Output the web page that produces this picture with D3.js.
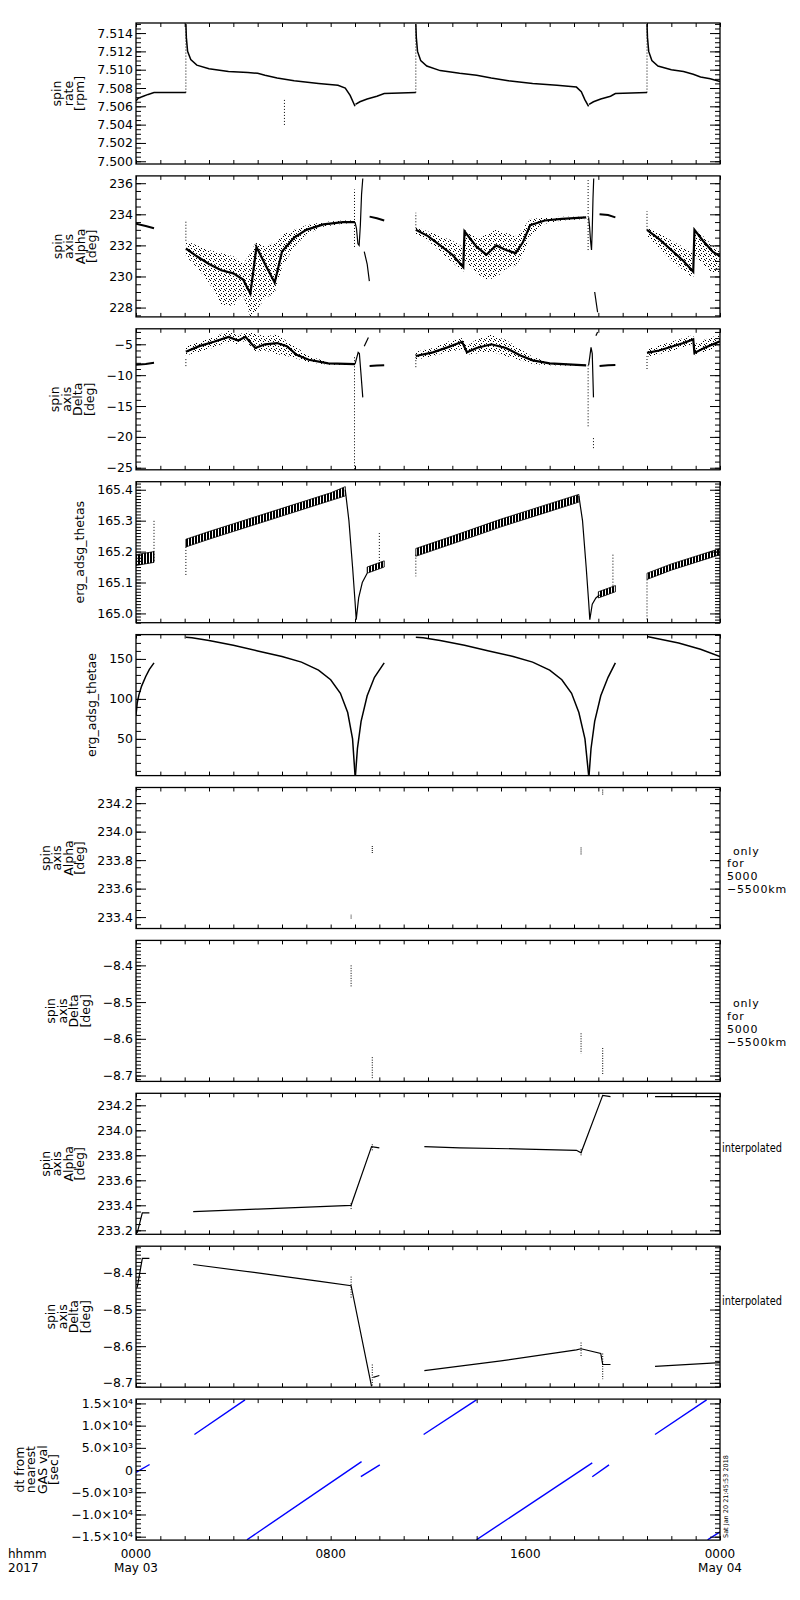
<!DOCTYPE html>
<meta charset="utf-8">
<style>
body { margin: 0; background: #fff; }
svg { display: block; background: #fff; }
text { font-family: "DejaVu Sans", sans-serif; font-size: 12.5px; fill: #000; }
.axis text { font-family: "DejaVu Sans", sans-serif; font-size: 12.5px; }
.axis line { stroke: #000; stroke-width: 1; }
</style>
<svg width="800" height="1600"></svg>
<script src="https://d3js.org/d3.v7.min.js"></script>
<script>

// ---- time axis (hours from 2017 May 03 00:00) ----
var xMajor = [0, 8, 16, 24];
var xMajorLabels = ["0000", "0800", "1600", "0000"];
var xDateLabels = ["May 03", "", "", "May 04"];

// ---- panel 1: spin rate [rpm] ----
var rateTicks = [7.500, 7.502, 7.504, 7.506, 7.508, 7.510, 7.512, 7.514];
var rateSeg0 = [[0,7.5066],[0.1,7.5069],[0.3,7.5071],[0.5,7.5073],[0.74,7.5075],[2.05,7.5075]];
var rateSeg1 = [[2.05,7.5150],[2.07,7.5135],[2.12,7.5120],[2.25,7.5111],[2.5,7.5105],[3.0,7.5101],[3.8,7.5098],[4.6,7.5097],[5.0,7.5096],[5.3,7.5094],[5.8,7.5091],[6.5,7.5088],[7.5,7.5085],[8.3,7.5083],[8.6,7.5080],[8.8,7.5072],[8.95,7.5063],[9.0,7.5060]];
var rateSeg1b = [[9.02,7.5062],[9.2,7.5065],[9.5,7.5068],[9.9,7.5071],[10.2,7.5074],[11.5,7.5075]];
var rateSeg2 = [[11.5,7.5150],[11.52,7.5135],[11.57,7.5120],[11.7,7.5110],[11.95,7.5104],[12.5,7.5099],[13.3,7.5096],[14.0,7.5094],[14.6,7.5091],[15.3,7.5088],[16.3,7.5085],[17.3,7.5083],[18.1,7.5081],[18.3,7.5076],[18.45,7.5067],[18.6,7.5060]];
var rateSeg2b = [[18.62,7.5062],[18.8,7.5065],[19.1,7.5068],[19.5,7.5071],[19.7,7.5074],[21.0,7.5075]];
var rateSeg3 = [[21.0,7.5150],[21.02,7.5135],[21.07,7.5120],[21.2,7.5110],[21.45,7.5104],[22.0,7.5100],[22.5,7.5098],[22.9,7.5095],[23.2,7.5092],[23.6,7.5090],[24,7.5087]];
var rateDots = [[2.05,7.5075,7.5150],[11.5,7.5075,7.5150],[21.0,7.5075,7.5150],[6.1,7.5067,7.5038]];

// ---- panel 2: spin axis alpha [deg]  (cloud rows: hour, low, core, high) ----
var alphaTicks = [228, 230, 232, 234, 236];
var alphaSeg0 = [[0,233.4],[0.4,233.25],[0.74,233.1]];
var alphaCloud1 = [[2.05,231.3,231.8,232.3],[2.5,230.6,231.3,232.0],[3.0,229.6,230.8,231.7],[3.5,228.2,230.4,231.5],[4.0,228.1,230.2,231.3],[4.4,228.8,229.8,230.8],[4.7,227.4,228.9,231.5],[4.95,227.8,231.9,232.3],[5.3,228.6,230.8,231.9],[5.7,228.9,229.6,232.2],[6.0,230.6,231.6,232.7],[6.5,231.9,232.5,233.0],[7.0,232.7,233.0,233.3],[7.7,233.2,233.35,233.5],[8.5,233.4,233.5,233.6],[9.0,233.45,233.5,233.6]];
var alphaCloud2 = [[11.5,232.7,233.0,233.2],[12.0,232.3,232.6,232.9],[12.5,231.6,232.0,232.6],[13.0,230.9,231.4,232.3],[13.45,230.3,230.6,231.9],[13.5,231.0,232.9,233.0],[14.0,230.2,231.9,232.5],[14.4,229.8,231.4,232.7],[14.8,229.9,232.0,233.0],[15.2,230.5,231.7,232.8],[15.6,230.7,231.5,232.6],[15.9,231.3,232.2,233.1],[16.2,232.6,233.3,233.7],[16.8,233.4,233.6,233.8],[17.5,233.6,233.7,233.85],[18.5,233.7,233.8,233.85]];
var alphaCloud3 = [[21.0,232.6,233.0,233.2],[21.5,231.8,232.4,232.8],[22.0,231.0,231.7,232.3],[22.5,230.4,231.0,231.9],[22.9,229.9,230.3,231.5],[22.95,231.3,233.0,233.1],[23.3,230.8,232.3,232.6],[23.7,230.2,231.6,232.0],[24.0,230.3,231.3,231.6]];
var alphaSpike1 = [[9.0,233.5],[9.06,233.1],[9.12,232.1],[9.17,232.0],[9.22,233.3],[9.27,235.3],[9.32,236.3]];
var alphaDrop1 = [[9.38,231.6],[9.5,230.8],[9.59,229.7]];
var alphaTail1 = [[9.6,233.85],[9.9,233.75],[10.2,233.6]];
var alphaSpike2 = [[18.6,233.8],[18.64,233.2],[18.68,232.3],[18.72,231.7],[18.75,233.0],[18.78,235.0],[18.81,236.3]];
var alphaDrop2 = [[18.85,229.0],[18.97,227.7]];
var alphaTail2 = [[19.05,234.0],[19.4,233.95],[19.7,233.8]];
var alphaDots = [[2.05,232.3,233.6],[8.98,231.9,235.6],[11.5,233.1,234.1],[18.58,231.7,236.2],[21.0,233.0,234.2]];

// ---- panel 3: spin axis delta [deg] ----
var deltaTicks = [-25, -20, -15, -10, -5];
var deltaSeg0 = [[0,-8.3],[0.4,-8.2],[0.74,-8.0]];
var deltaCloud1 = [[2.05,-6.8,-6.2,-5.3],[2.6,-6.2,-5.3,-4.6],[3.2,-5.5,-4.6,-3.8],[3.8,-4.7,-3.8,-2.8],[4.2,-5.0,-4.4,-3.6],[4.5,-4.4,-3.8,-2.8],[4.9,-6.2,-5.6,-3.3],[5.3,-6.0,-5.0,-3.7],[5.8,-6.6,-4.8,-3.4],[6.2,-6.9,-5.3,-4.5],[6.6,-7.3,-6.7,-5.5],[7.1,-7.9,-7.5,-6.9],[7.9,-8.3,-8.1,-7.9],[9.0,-8.35,-8.2,-8.1]];
var deltaCloud2 = [[11.5,-7.5,-6.9,-6.2],[12.2,-6.9,-6.3,-5.6],[12.8,-6.3,-5.5,-4.6],[13.4,-5.8,-4.6,-4.0],[13.6,-6.7,-6.3,-5.3],[14.0,-6.5,-5.6,-4.2],[14.6,-6.2,-5.0,-3.4],[15.2,-6.9,-5.6,-4.3],[15.8,-7.6,-6.8,-5.8],[16.3,-8.2,-7.6,-7.0],[17.0,-8.4,-8.1,-8.0],[18.5,-8.5,-8.4,-8.3]];
var deltaCloud3 = [[21.0,-7.0,-6.4,-5.8],[21.5,-6.6,-6.0,-5.2],[22.0,-6.1,-5.4,-4.6],[22.5,-5.5,-4.8,-4.0],[22.9,-5.0,-4.2,-3.5],[22.95,-6.8,-6.4,-5.0],[23.4,-6.2,-5.5,-4.2],[24.0,-5.2,-4.5,-3.4]];
var deltaSpike1 = [[9.0,-8.2],[9.07,-7.2],[9.13,-6.3],[9.18,-6.5],[9.24,-9.5],[9.32,-13.6]];
var deltaRise1 = [[9.38,-5.3],[9.55,-3.9]];
var deltaTail1 = [[9.6,-8.5],[9.9,-8.45],[10.2,-8.4]];
var deltaSpike2 = [[18.6,-8.4],[18.65,-7.0],[18.7,-5.5],[18.75,-6.5],[18.8,-13.6]];
var deltaRise2 = [[18.9,-3.6],[18.97,-3.0]];
var deltaTail2 = [[19.05,-8.5],[19.4,-8.4],[19.7,-8.35]];
var deltaDots = [[2.05,-7.4,-8.6],[8.98,-7.1,-25.3],[11.5,-6.6,-8.9],[18.58,-8.4,-18.5],[18.8,-20.2,-22.1],[21.0,-6.9,-9.1]];

// ---- panel 4: erg_adsg_thetas  (band rows: hour, low, high) ----
var thetasTicks = [165.0, 165.1, 165.2, 165.3, 165.4];
var thetasBand0 = [[0,165.155,165.19],[0.74,165.165,165.2]];
var thetasBand1 = [[2.05,165.215,165.24],[3,165.24,165.265],[4,165.265,165.29],[5,165.29,165.315],[6,165.315,165.34],[7,165.34,165.365],[8,165.365,165.39],[8.6,165.38,165.41]];
var thetasFall1 = [[8.6,165.40],[8.75,165.3],[8.9,165.15],[9.0,165.04],[9.05,164.98],[9.15,165.05],[9.3,165.1],[9.5,165.13]];
var thetasBand1b = [[9.5,165.13,165.15],[10.2,165.15,165.17]];
var thetasBand2 = [[11.5,165.185,165.21],[13,165.225,165.25],[15,165.28,165.305],[17,165.33,165.355],[18.2,165.36,165.385]];
var thetasFall2 = [[18.2,165.38],[18.35,165.3],[18.5,165.15],[18.6,165.04],[18.65,164.98],[18.75,165.03],[18.9,165.05],[19.05,165.06]];
var thetasBand2b = [[19.0,165.05,165.07],[19.7,165.07,165.09]];
var thetasBand3 = [[21.0,165.11,165.13],[22,165.14,165.16],[23,165.165,165.185],[24,165.19,165.21]];
var thetasDots = [[0.74,165.17,165.30],[2.05,165.215,165.12],[10.0,165.16,165.26],[11.5,165.19,165.12],[19.6,165.08,165.19],[21.0,165.11,164.98]];

// ---- panel 5: erg_adsg_thetae ----
var thetaeTicks = [50, 100, 150];
var thetaeSeg0 = [[0,80],[0.05,95],[0.12,105],[0.23,116],[0.4,128],[0.55,137],[0.74,145]];
var thetaeSeg1 = [[2.05,177],[2.3,176.5],[3,173],[4,167],[5,160],[6,153],[6.8,146],[7.5,136],[8.0,124],[8.4,107],[8.7,83],[8.9,50],[9.0,5]];
var thetaeSeg1b = [[9.02,5],[9.1,38],[9.25,72],[9.5,104],[9.8,127],[10.2,145]];
var thetaeSeg2 = [[11.5,177],[11.8,176.5],[12.5,173],[13.5,167],[14.5,160],[15.5,153],[16.3,146],[17.0,136],[17.5,124],[17.9,107],[18.2,83],[18.45,50],[18.6,5]];
var thetaeSeg2b = [[18.62,5],[18.7,38],[18.85,72],[19.1,104],[19.4,127],[19.7,145]];
var thetaeSeg3 = [[21.0,178],[21.5,175],[22.3,170],[23.2,162],[24,153]];

// ---- panels 6/7: only for 5000-5500km (hour, from, to) ----
var alphaOnlyTicks = [233.4, 233.6, 233.8, 234.0, 234.2];
var alphaOnly = [[8.84,233.39,233.42],[9.71,233.85,233.90],[18.29,233.84,233.89],[19.18,234.26,234.30]];
var deltaOnlyTicks = [-8.7, -8.6, -8.5, -8.4];
var deltaOnly = [[8.84,-8.40,-8.46],[9.71,-8.65,-8.71],[18.29,-8.585,-8.64],[19.18,-8.625,-8.70]];

// ---- panels 8/9: interpolated ----
var alphaInterpTicks = [233.2, 233.4, 233.6, 233.8, 234.0, 234.2];
var alphaInterp0 = [[0.05,233.18],[0.26,233.34],[0.55,233.34]];
var alphaInterp1 = [[2.35,233.35],[5,233.37],[8.84,233.40],[9.68,233.87],[10.0,233.86]];
var alphaInterp2 = [[11.85,233.87],[13.3,233.86],[16.0,233.85],[18.1,233.84],[18.29,233.82],[19.18,234.28],[19.5,234.27]];
var alphaInterp3 = [[21.33,234.27],[24,234.27]];
var alphaInterpDots = [[8.84,233.37,233.43],[9.71,233.84,233.90],[18.29,233.80,233.86]];
var deltaInterpTicks = [-8.7, -8.6, -8.5, -8.4];
var deltaInterp0 = [[0.05,-8.44],[0.26,-8.36],[0.55,-8.36]];
var deltaInterp1 = [[2.35,-8.377],[5,-8.40],[7.56,-8.423],[8.84,-8.435],[9.68,-8.71]];
var deltaInterp1b = [[9.75,-8.685],[10.0,-8.68]];
var deltaInterp2 = [[11.85,-8.667],[15,-8.64],[18.1,-8.61],[18.29,-8.607],[19.1,-8.62],[19.18,-8.65],[19.5,-8.65]];
var deltaInterp3 = [[21.33,-8.655],[24,-8.645]];
var deltaInterpDots = [[8.84,-8.41,-8.47],[9.71,-8.65,-8.71],[18.29,-8.59,-8.63],[19.18,-8.62,-8.69]];

// ---- panel 10: dt from nearest GAS val [sec] ----
var dtTicks = [15000, 10000, 5000, 0, -5000, -10000, -15000];
var dtTickLabels = ["1.5\u00d710\u2074", "1.0\u00d710\u2074", "5.0\u00d710\u00b3", "0", "\u22125.0\u00d710\u00b3", "\u22121.0\u00d710\u2074", "\u22121.5\u00d710\u2074"];
var dtSegments = [
  [[0,-500],[0.56,1250]],
  [[2.40,8000],[4.48,15800]],
  [[4.56,-15700],[9.27,1900]],
  [[9.24,-1500],[10.02,1150]],
  [[11.82,8000],[13.99,15800]],
  [[13.99,-15700],[18.75,1600]],
  [[18.75,-1500],[19.44,1150]],
  [[21.33,8000],[23.45,15800]],
  [[23.49,-15700],[24,-13900]]
];

var svg = d3.select("svg");
var left = 136, right = 720;
var panelH = 141, pitch = 152.9, top0 = 23;

var x = d3.scaleLinear().domain([0, 24]).range([left, right]);

var defs = svg.append("defs");
// sparse stipple for the scattered attitude clouds
var stip = defs.append("pattern").attr("id", "stip")
  .attr("width", 5).attr("height", 5).attr("patternUnits", "userSpaceOnUse");
[[0,0],[3,1],[1,3],[4,4]].forEach(function(p) {
  stip.append("rect").attr("x", p[0]).attr("y", p[1]).attr("width", 1).attr("height", 1).attr("fill", "#000");
});
// dense vertical hatch for the sawtooth band
var hatch = defs.append("pattern").attr("id", "hatch")
  .attr("width", 3).attr("height", 4).attr("patternUnits", "userSpaceOnUse");
hatch.append("rect").attr("width", 2).attr("height", 4).attr("fill", "#000");

// drawing helpers
function line(g, y, data, w, color) {
  g.append("path").datum(data)
    .attr("fill", "none")
    .attr("stroke", color || "#000")
    .attr("stroke-width", w || 1.2)
    .attr("d", d3.line().x(function(d) { return x(d[0]); }).y(function(d) { return y(d[1]); }));
}
function cloud(g, y, data) {
  g.append("path").datum(data)
    .attr("fill", "url(#stip)")
    .attr("d", d3.area().x(function(d) { return x(d[0]); })
      .y0(function(d) { return y(d[1]); }).y1(function(d) { return y(d[3]); }));
  line(g, y, data.map(function(d) { return [d[0], d[2]]; }), 2.2);
}
function band(g, y, data) {
  g.append("path").datum(data)
    .attr("fill", "url(#hatch)")
    .attr("stroke", "#000").attr("stroke-width", 0.8)
    .attr("d", d3.area().x(function(d) { return x(d[0]); })
      .y0(function(d) { return y(d[1]); }).y1(function(d) { return y(d[2]); }));
}
function vdots(g, y, data, dash) {
  g.selectAll(null).data(data).enter().append("line")
    .attr("x1", function(d) { return x(d[0]); }).attr("x2", function(d) { return x(d[0]); })
    .attr("y1", function(d) { return y(d[1]); }).attr("y2", function(d) { return y(d[2]); })
    .attr("stroke", "#000").attr("stroke-width", 1)
    .attr("stroke-dasharray", dash || "1,2");
}

var panels = [
  { label: ["spin", "rate", "[rpm]"], domain: [7.4997, 7.5151], ticks: rateTicks, minor: 0.0005, fmt: d3.format(".3f"),
    draw: function(g, y) {
      line(g, y, rateSeg0, 1.5); line(g, y, rateSeg1, 1.5); line(g, y, rateSeg1b, 1.5);
      line(g, y, rateSeg2, 1.5); line(g, y, rateSeg2b, 1.5); line(g, y, rateSeg3, 1.5);
      vdots(g, y, rateDots);
    } },
  { label: ["spin", "axis", "Alpha", "[deg]"], domain: [227.4, 236.47], ticks: alphaTicks, minor: 0.5, fmt: d3.format("d"),
    draw: function(g, y) {
      line(g, y, alphaSeg0, 2);
      cloud(g, y, alphaCloud1); cloud(g, y, alphaCloud2); cloud(g, y, alphaCloud3);
      line(g, y, alphaSpike1, 1.2); line(g, y, alphaDrop1, 1.2); line(g, y, alphaTail1, 2);
      line(g, y, alphaSpike2, 1.2); line(g, y, alphaDrop2, 1.2); line(g, y, alphaTail2, 2);
      vdots(g, y, alphaDots);
    } },
  { label: ["spin", "axis", "Delta", "[deg]"], domain: [-25.33, -2.49], ticks: deltaTicks, minor: 1, fmt: d3.format("d"),
    draw: function(g, y) {
      line(g, y, deltaSeg0, 2);
      cloud(g, y, deltaCloud1); cloud(g, y, deltaCloud2); cloud(g, y, deltaCloud3);
      line(g, y, deltaSpike1, 1.2); line(g, y, deltaRise1, 1.2); line(g, y, deltaTail1, 2);
      line(g, y, deltaSpike2, 1.2); line(g, y, deltaRise2, 1.2); line(g, y, deltaTail2, 2);
      vdots(g, y, deltaDots);
    } },
  { label: ["erg_adsg_thetas"], domain: [164.970, 165.426], ticks: thetasTicks, minor: 0.01, fmt: d3.format(".1f"),
    draw: function(g, y) {
      band(g, y, thetasBand0); band(g, y, thetasBand1); band(g, y, thetasBand1b);
      band(g, y, thetasBand2); band(g, y, thetasBand2b); band(g, y, thetasBand3);
      line(g, y, thetasFall1, 1.2); line(g, y, thetasFall2, 1.2);
      vdots(g, y, thetasDots);
    } },
  { label: ["erg_adsg_thetae"], domain: [4.1, 180.4], ticks: thetaeTicks, minor: 10, fmt: d3.format("d"),
    draw: function(g, y) {
      [thetaeSeg0, thetaeSeg1, thetaeSeg1b, thetaeSeg2, thetaeSeg2b, thetaeSeg3].forEach(function(s) { line(g, y, s, 1.5); });
    } },
  { label: ["spin", "axis", "Alpha", "[deg]"], domain: [233.32, 234.31], ticks: alphaOnlyTicks, minor: 0.05, fmt: d3.format(".1f"),
    note: ["only", "for", "5000", "\u22125500km"],
    draw: function(g, y) { vdots(g, y, alphaOnly, "1,1"); } },
  { label: ["spin", "axis", "Delta", "[deg]"], domain: [-8.716, -8.332], ticks: deltaOnlyTicks, minor: 0.01, fmt: d3.format(".1f"),
    note: ["only", "for", "5000", "\u22125500km"],
    draw: function(g, y) { vdots(g, y, deltaOnly, "1,1.5"); } },
  { label: ["spin", "axis", "Alpha", "[deg]"], domain: [233.168, 234.296], ticks: alphaInterpTicks, minor: 0.05, fmt: d3.format(".1f"),
    note: ["interpolated"],
    draw: function(g, y) {
      [alphaInterp0, alphaInterp1, alphaInterp2, alphaInterp3].forEach(function(s) { line(g, y, s, 1.2); });
      vdots(g, y, alphaInterpDots, "1,1.5");
    } },
  { label: ["spin", "axis", "Delta", "[deg]"], domain: [-8.712, -8.327], ticks: deltaInterpTicks, minor: 0.01, fmt: d3.format(".1f"),
    note: ["interpolated"],
    draw: function(g, y) {
      [deltaInterp0, deltaInterp1, deltaInterp1b, deltaInterp2, deltaInterp3].forEach(function(s) { line(g, y, s, 1.2); });
      vdots(g, y, deltaInterpDots, "1,1.5");
    } },
  { label: ["dt from", "nearest", "GAS val", "[sec]"], domain: [-15770, 15975], ticks: dtTicks, minor: 1000,
    fmt: function(d) { return dtTickLabels[dtTicks.indexOf(d)]; },
    draw: function(g, y) {
      dtSegments.forEach(function(s) { line(g, y, s, 1.4, "#0000ff"); });
    } }
];

panels.forEach(function(p, i) {
  var top = top0 + i * pitch, bottom = top + panelH;
  var y = d3.scaleLinear().domain(p.domain).range([bottom, top]);
  var minors = d3.range(Math.ceil(p.domain[0] / p.minor), Math.floor(p.domain[1] / p.minor) + 1)
    .map(function(k) { return k * p.minor; });

  // clipped data
  defs.append("clipPath").attr("id", "clip" + i)
    .append("rect").attr("x", left).attr("y", top).attr("width", right - left).attr("height", panelH);
  var g = svg.append("g").attr("clip-path", "url(#clip" + i + ")");
  p.draw(g, y);

  // y axes (ticks inside the box)
  var yAxis = svg.append("g").attr("class", "axis").attr("transform", "translate(" + left + ",0)")
    .call(d3.axisLeft(y).tickValues(p.ticks).tickSize(-10).tickPadding(3).tickFormat(p.fmt));
  yAxis.select(".domain").remove();
  svg.append("g").attr("class", "axis").attr("transform", "translate(" + left + ",0)")
    .call(d3.axisLeft(y).tickValues(minors).tickSize(-5).tickFormat(""))
    .select(".domain").remove();
  svg.append("g").attr("class", "axis").attr("transform", "translate(" + right + ",0)")
    .call(d3.axisRight(y).tickValues(p.ticks).tickSize(-10).tickFormat(""))
    .select(".domain").remove();
  svg.append("g").attr("class", "axis").attr("transform", "translate(" + right + ",0)")
    .call(d3.axisRight(y).tickValues(minors).tickSize(-5).tickFormat(""))
    .select(".domain").remove();

  // x ticks top & bottom
  svg.append("g").attr("class", "axis").attr("transform", "translate(0," + bottom + ")")
    .call(d3.axisBottom(x).tickValues(d3.range(0, 25)).tickSize(-4).tickFormat(""))
    .select(".domain").remove();
  svg.append("g").attr("class", "axis").attr("transform", "translate(0," + top + ")")
    .call(d3.axisTop(x).tickValues(d3.range(0, 25)).tickSize(-4).tickFormat(""))
    .select(".domain").remove();

  svg.append("rect").attr("x", left).attr("y", top).attr("width", right - left).attr("height", panelH)
    .attr("fill", "none").attr("stroke", "#000").attr("stroke-width", 1.3);

  // rotated y label, placed just left of the tick labels
  var labelLeft = left + yAxis.node().getBBox().x;
  var lineH = 11.5;
  var lx = labelLeft - 10 - 3 - (p.label.length - 1) * lineH;
  var lab = svg.append("text").attr("text-anchor", "middle")
    .attr("transform", "translate(" + lx + "," + (top + panelH / 2) + ") rotate(-90)");
  p.label.forEach(function(s, k) {
    lab.append("tspan").attr("x", 0).attr("dy", k === 0 ? 0 : lineH).text(s);
  });

  // notes on the right
  if (p.note && p.note.length > 1) {
    p.note.forEach(function(s, k) {
      svg.append("text").attr("x", k === 0 ? 733 : 727).attr("y", top + 67 + k * 12.8)
        .style("font-size", "11px").style("letter-spacing", "0.8px").text(s);
    });
  } else if (p.note) {
    svg.append("text").attr("x", 722).attr("y", top + 59)
      .attr("textLength", 60).attr("lengthAdjust", "spacingAndGlyphs").text(p.note[0]);
  }
});

// bottom time labels
var yLab = top0 + 9 * pitch + panelH + 18;
xMajor.forEach(function(h, k) {
  svg.append("text").attr("x", x(h)).attr("y", yLab).attr("text-anchor", "middle")
    .style("font-size", "12px").text(xMajorLabels[k]);
  if (xDateLabels[k]) {
    svg.append("text").attr("x", x(h)).attr("y", yLab + 13.5).attr("text-anchor", "middle")
      .style("font-size", "12px").text(xDateLabels[k]);
  }
});
svg.append("text").attr("x", 8).attr("y", yLab).style("font-size", "12px").text("hhmm");
svg.append("text").attr("x", 8).attr("y", yLab + 13.5).style("font-size", "12px").text("2017");

// creation stamp
svg.append("text").attr("transform", "translate(728,1538) rotate(-90)")
  .style("font-size", "6.5px").text("Sat Jan 20 21:45:53 2018");

</script>
